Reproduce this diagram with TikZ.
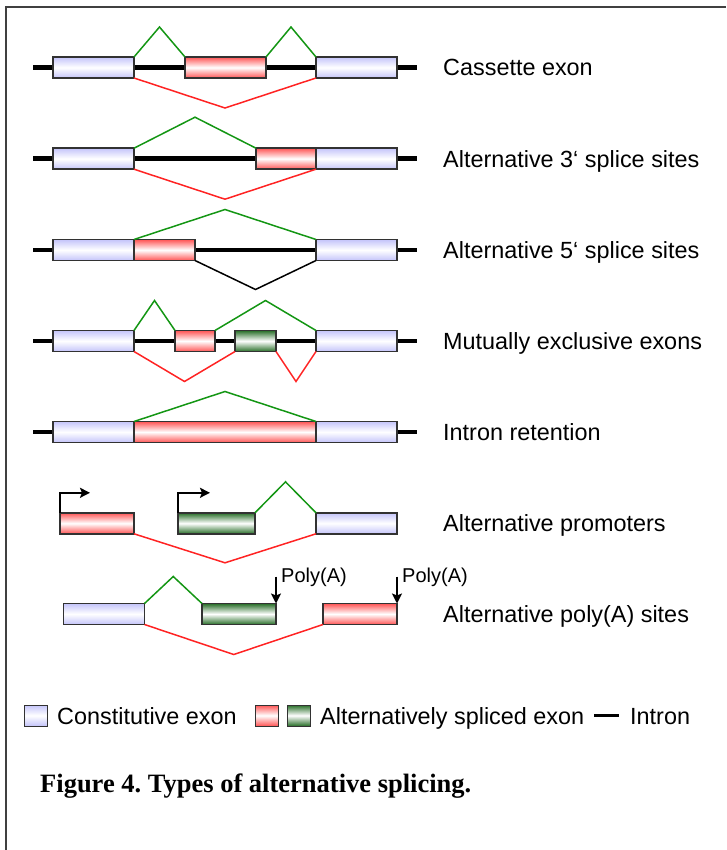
\documentclass[tikz,border=0pt]{standalone}
\usepackage{fontspec}
\setmainfont{Liberation Sans}
\newfontfamily\capfont{Liberation Serif}
\usetikzlibrary{arrows.meta,calc,backgrounds}

\definecolor{constc}{RGB}{196,196,250}
\definecolor{altred}{RGB}{255,85,85}
\definecolor{altgreen}{RGB}{40,110,40}
\definecolor{incgreen}{RGB}{20,150,20}
\definecolor{skipred}{RGB}{255,35,35}
\definecolor{boxline}{RGB}{50,50,50}
\frenchspacing

\begin{document}
\begin{tikzpicture}[x=1pt,y=-1pt,
    exon/.style={rectangle,draw=boxline,line width=1.5pt,minimum height=21pt,
                 inner sep=0pt,outer sep=0pt,top color=#1,bottom color=#1,middle color=white},
    const/.style={exon=constc,minimum width=81pt},
    altr/.style={exon=altred},
    altg/.style={exon=altgreen},
    intron/.style={line width=4.5pt},
    incline/.style={draw=incgreen,line width=1.5pt},
    skipline/.style={draw=skipred,line width=1.5pt},
    blackline/.style={draw=black,line width=1.5pt},
    splice/.style={to path={-- ($(\tikztostart)!0.5!(\tikztotarget)+(0,#1)$) -- (\tikztotarget)}},
    lab/.style={anchor=base west,inner sep=0pt,font=\fontsize{23.4}{28}\selectfont},
    >={Stealth[length=10pt,width=10pt,inset=2pt]}]

\useasboundingbox (0,0) rectangle (726,850);
\draw[draw=black!75,line width=2pt] (6,850) -- (6,7) -- (726,7);

% exons
\node[const] (a1) at (93.5,67.5) {};
\node[altr,minimum width=81pt] (b1) at (225.5,67.5) {};
\node[const] (c1) at (356.5,67.5) {};

\node[const] (a2) at (93.5,158.7) {};
\node[altr,minimum width=60pt] (b2) at (286,158.7) {};
\node[const] (c2) at (356.5,158.7) {};

\node[const] (a3) at (93.5,250) {};
\node[altr,minimum width=61pt] (b3) at (164.5,250) {};
\node[const] (c3) at (356.5,250) {};

\node[const] (a4) at (93.5,341) {};
\node[altr,minimum width=40pt] (b4) at (195,341) {};
\node[altg,minimum width=41pt] (g4) at (255.5,341) {};
\node[const] (c4) at (356.5,341) {};

\node[const] (a5) at (93.5,432) {};
\node[altr,minimum width=182pt] (b5) at (225,432) {};
\node[const] (c5) at (356.5,432) {};

\node[altr,minimum width=74pt] (r6) at (97,523.3) {};
\node[altg,minimum width=77pt] (g6) at (216.5,523.3) {};
\node[const] (c6) at (356.5,523.3) {};

\node[const] (a7) at (104,614) {};
\node[altg,minimum width=74pt] (g7) at (239,614) {};
\node[altr,minimum width=74pt] (r7) at (360,614) {};

% introns
\begin{scope}[on background layer]
    \draw[intron] ($(a1.west)+(-20,0)$) -- ($(c1.east)+(20,0)$);
    \draw[intron] ($(a2.west)+(-20,0)$) -- ($(c2.east)+(20,0)$);
    \draw[intron] ($(a3.west)+(-20,0)$) -- ($(c3.east)+(20,0)$);
    \draw[intron] ($(a4.west)+(-20,0)$) -- ($(c4.east)+(20,0)$);
    \draw[intron] ($(a5.west)+(-20,0)$) -- ($(c5.east)+(20,0)$);
\end{scope}

% splicing paths
\draw[incline] (a1.north east) to[splice=-30] (b1.north west);
\draw[incline] (b1.north east) to[splice=-30] (c1.north west);
\draw[skipline] (a1.south east) to[splice=30] (c1.south west);

\draw[incline] (a2.north east) to[splice=-31] (b2.north west);
\draw[skipline] (a2.south east) to[splice=30] (c2.south west);

\draw[incline] (a3.north east) to[splice=-30] (c3.north west);
\draw[blackline] (b3.south east) to[splice=29] (c3.south west);

\draw[incline] (a4.north east) to[splice=-30] (b4.north west);
\draw[incline] (b4.north east) to[splice=-30] (c4.north west);
\draw[skipline] (a4.south east) to[splice=30] (g4.south west);
\draw[skipline] (g4.south east) to[splice=30] (c4.south west);

\draw[incline] (a5.north east) to[splice=-30] (c5.north west);

\draw[incline] (g6.north east) to[splice=-31] (c6.north west);
\draw[skipline] (r6.south east) to[splice=29] (c6.south west);

\draw[incline] (a7.north east) to[splice=-27] (g7.north west);
\draw[skipline] (a7.south east) to[splice=30] (r7.south west);

% promoters
\draw[->,line width=2pt] (r6.north west) -- ++(0,-20) -- ++(30,0);
\draw[->,line width=2pt] (g6.north west) -- ++(0,-20) -- ++(32,0);

% poly(A)
\coordinate (pa1) at ($(g7.north east)+(0,-27)$);
\coordinate (pa2) at ($(r7.north east)+(0,-27)$);
\draw[->,line width=1.8pt] (pa1) -- (g7.north east);
\draw[->,line width=1.8pt] (pa2) -- (r7.north east);
\node[anchor=base west,inner sep=0pt,font=\fontsize{20}{24}\selectfont] (pt1) at ($(pa1)+(5,6)$) {Poly(A)};
\node[anchor=base west,inner sep=0pt,font=\fontsize{20}{24}\selectfont] (pt2) at ($(pa2)+(5,6)$) {Poly(A)};

% labels
\node[lab] (lab1) at (443,76) {Cassette exon};
\node[lab] (lab2) at (443,167.2) {Alternative 3‘ splice sites};
\node[lab] (lab3) at (443,258.5) {Alternative 5‘ splice sites};
\node[lab] (lab4) at (443,349.5) {Mutually exclusive exons};
\node[lab] (lab5) at (443,440.5) {Intron retention};
\node[lab] (lab6) at (443,531.8) {Alternative promoters};
\node[lab] (lab7) at (443,622.5) {Alternative poly(A) sites};

% legend
\node[exon=constc,minimum width=23pt,line width=1pt] (lgc) at (35.5,715.5) {};
\node[lab] (lgct) at (57,724) {Constitutive exon};
\node[altr,minimum width=23pt,line width=1pt] (lgr) at (266.5,715.5) {};
\node[altg,minimum width=23pt,line width=1pt] (lgg) at (298.5,715.5) {};
\node[lab] (lgat) at (320,724) {Alternatively spliced exon};
\coordinate (li1) at (594,715.5);
\coordinate (li2) at (619,715.5);
\draw[line width=3.5pt] (li1) -- (li2);
\node[lab] (lgit) at (630,724) {Intron};

% caption
\node[anchor=base west,inner sep=0pt,font=\capfont\bfseries\fontsize{26.5}{32}\selectfont] (cap) at (40,792) {Figure 4. Types of alternative splicing.};
\end{tikzpicture}
\end{document}
